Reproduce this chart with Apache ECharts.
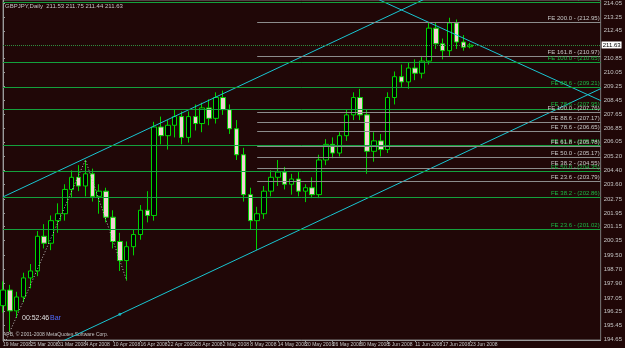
<!DOCTYPE html>
<html>
<head>
<meta charset="utf-8">
<script src="https://cdn.jsdelivr.net/npm/echarts@6/dist/echarts.min.js"></script>
<style>
html,body{margin:0;padding:0;background:#200707;}
#chart{width:625px;height:348px;}
</style>
</head>
<body>
<div id="chart"></div>
<script>
// GBPJPY daily bars
const dates = ['19 Mar 2008','20 Mar 2008','21 Mar 2008','24 Mar 2008','25 Mar 2008','26 Mar 2008','27 Mar 2008','28 Mar 2008','31 Mar 2008',
  '1 Apr 2008','2 Apr 2008','3 Apr 2008','4 Apr 2008','7 Apr 2008','8 Apr 2008','9 Apr 2008','10 Apr 2008','11 Apr 2008','14 Apr 2008','15 Apr 2008',
  '16 Apr 2008','17 Apr 2008','18 Apr 2008','21 Apr 2008','22 Apr 2008','23 Apr 2008','24 Apr 2008','25 Apr 2008','28 Apr 2008','29 Apr 2008','30 Apr 2008',
  '1 May 2008','2 May 2008','5 May 2008','6 May 2008','7 May 2008','8 May 2008','9 May 2008','12 May 2008','13 May 2008','14 May 2008','15 May 2008',
  '16 May 2008','19 May 2008','20 May 2008','21 May 2008','22 May 2008','23 May 2008','26 May 2008','27 May 2008','28 May 2008','29 May 2008','30 May 2008',
  '2 Jun 2008','3 Jun 2008','4 Jun 2008','5 Jun 2008','6 Jun 2008','9 Jun 2008','10 Jun 2008','11 Jun 2008','12 Jun 2008','13 Jun 2008','16 Jun 2008',
  '17 Jun 2008','18 Jun 2008','19 Jun 2008','20 Jun 2008','23 Jun 2008'];
const opens  = [196.6,197.5,196.3,197.1,198.2,198.6,200.6,200.2,201.5,201.9,203.3,204.0,203.5,204.2,202.9,203.2,201.7,200.3,199.2,200.0,
  200.7,202.1,201.8,206.9,206.4,207.0,207.5,206.3,207.5,207.1,208.0,207.4,208.6,207.9,206.8,205.3,203.0,201.5,201.9,203.2,
  204.0,204.3,203.6,203.9,203.2,203.4,203.0,205.0,205.9,205.4,206.4,207.6,208.6,207.6,205.5,206.1,205.6,208.6,209.8,209.5,
  210.3,210.0,210.7,212.6,211.7,211.3,212.9,211.8,211.53];
const highs  = [198.0,197.8,197.4,198.5,199.0,200.9,201.3,201.8,202.5,203.6,204.4,204.7,205.0,204.5,203.6,203.4,202.1,200.8,200.3,201.0,
  202.4,203.2,207.2,207.5,207.3,207.9,207.8,207.8,208.2,208.3,208.5,208.9,209.0,208.2,207.3,205.7,203.4,202.3,203.5,204.4,
  205.0,204.6,204.2,204.3,203.6,204.0,205.3,206.2,206.3,206.6,207.9,208.9,209.1,207.9,206.6,206.5,208.9,210.1,210.5,210.6,
  210.8,211.0,212.9,212.9,212.0,213.2,213.1,212.2,211.75];
const lows   = [196.2,195.1,195.9,196.8,197.6,198.3,199.9,199.8,200.8,201.5,202.8,203.2,202.9,202.6,201.9,201.4,199.9,198.6,198.05,199.5,
  200.4,201.4,201.5,205.9,205.6,206.3,205.9,206.0,206.7,206.6,207.0,207.1,207.6,206.5,205.0,202.6,201.0,199.81,201.6,202.9,
  203.5,203.3,203.0,202.9,202.57,202.8,202.8,204.7,205.1,205.2,206.1,207.3,207.3,204.2,204.9,205.2,205.4,208.2,209.2,209.1,
  209.6,209.7,210.5,211.4,210.8,211.0,211.4,211.3,211.44];
const closes = [197.5,196.3,197.1,198.2,198.6,200.6,200.2,201.5,201.9,203.3,204.0,203.5,204.2,202.9,203.2,201.7,200.3,199.2,200.0,200.7,
  202.1,201.8,206.9,206.4,207.0,207.5,206.3,207.5,207.1,208.0,207.4,208.6,207.9,206.8,205.3,203.0,201.5,201.9,203.2,204.0,
  204.3,203.6,203.9,203.2,203.4,203.0,205.0,205.9,205.4,206.4,207.6,208.6,207.6,205.5,206.1,205.6,208.6,209.8,209.5,210.3,
  210.0,210.7,212.6,211.7,211.3,212.9,211.8,211.5,211.63];

const futureSlots = 19;           // empty bars of chart shift on the right
const yTicks = [214.05,213.25,212.45,210.85,210.05,209.25,208.45,207.65,206.85,206.05,205.20,204.40,203.60,202.75,
  201.95,201.15,200.35,199.50,198.70,197.90,197.05,196.25,195.45,194.65];
const lastPrice = 211.63;

// fibo expansions: [ratio, price]
const fibGreen = [[127.2,214.08],[100.0,210.65],[88.6,209.21],[78.6,207.95],[61.8,205.84],[50.0,204.35],[38.2,202.86],[23.6,201.02]];
const fibGray  = [[200.0,212.95],[161.8,210.97],[100.0,207.76],[88.6,207.17],[78.6,206.65],[61.8,205.78],[50.0,205.17],[38.2,204.55],[23.6,203.79]];
// anchor points [bar index, price]
const fibGreenPts = [[-2,192.4],[12,205.0],[18,198.05]];
const fibGrayStart = 37;
const channelLow  = [[17,196.10],[68.6,205.69]];
const channelHigh = [[12,205.10]];  // parallel to channelLow
const fallLine    = [[54.84,214.22],[87.14,208.40]];

const cats = dates.concat(new Array(futureSlots).fill(''));
const lastIdx = cats.length - 1;
const candles = opens.map((o, i) => [o, closes[i], lows[i], highs[i]]);

function extend(p1, slope) {
  return [[0, p1[1] - slope * p1[0]], [lastIdx, p1[1] + slope * (lastIdx - p1[0])]];
}
const slopeLow = (channelLow[1][1] - channelLow[0][1]) / (channelLow[1][0] - channelLow[0][0]);
const slopeFall = (fallLine[1][1] - fallLine[0][1]) / (fallLine[1][0] - fallLine[0][0]);

const cyan = '#19c6d2';
const txt = '#c4c4c4';
const font = 'Liberation Sans';

function fibLines(levels, startIdx) {
  return levels.map(l => [
    {coord: [startIdx, l[1]], label: {formatter: 'FE ' + l[0].toFixed(1) + ' - (' + l[1].toFixed(2) + ')'}},
    {coord: [lastIdx, l[1]]}
  ]);
}
const showDate = (i, v) => v !== '' && i % 4 === 0;

const myChart = echarts.init(document.getElementById('chart'));
myChart.setOption({
  backgroundColor: '#200707',
  animation: false,
  textStyle: {fontFamily: font},
  grid: {left: 2, right: 17, top: 0, bottom: 8, show: true, borderColor: '#7a7a7a', borderWidth: 1},
  graphic: [
    {type: 'text', left: 5, top: 3, style: {text: 'GBPJPY,Daily  211.53 211.75 211.44 211.63', fill: txt, font: '6px ' + font}},
    {type: 'text', left: 22, top: 315, style: {text: '00:52:46', fill: '#e0e0e0', font: '7px ' + font}},
    {type: 'text', left: 50, top: 315, style: {text: 'Bar', fill: '#4f6cff', font: '7px ' + font}},
    {type: 'text', left: 3, top: 332, style: {text: 'APB, © 2001-2008 MetaQuotes Software Corp.', fill: txt, font: '5px ' + font}}
  ],
  xAxis: [
    {
      type: 'category', data: cats, boundaryGap: false,
      axisLine: {lineStyle: {color: '#9a9a9a'}},
      axisTick: {length: 2, lineStyle: {color: '#9a9a9a'}, interval: showDate},
      axisLabel: {color: txt, fontSize: 5, align: 'left', margin: 2, interval: 0, hideOverlap: false,
        formatter: (v, i) => showDate(i, v) ? v : ''},
      splitLine: {show: false}
    },
    {type: 'value', min: 0, max: lastIdx, show: false}
  ],
  yAxis: {
    type: 'value', position: 'right', min: 194.62, max: 214.22, scale: true,
    splitLine: {show: false},
    axisLine: {show: true, lineStyle: {color: '#9a9a9a'}},
    axisTick: {show: true, length: 2, customValues: yTicks, lineStyle: {color: '#9a9a9a'}},
    axisLabel: {color: txt, fontSize: 6, margin: 3, customValues: yTicks, formatter: v => v.toFixed(2)}
  },
  series: [
    {
      type: 'candlestick', xAxisIndex: 0, data: candles, barWidth: 5,
      itemStyle: {color: '#000000', color0: '#f2d0d2', borderColor: '#00d400', borderColor0: '#00d400', borderWidth: 1},
      markLine: {
        silent: true, symbol: 'none',
        lineStyle: {color: '#2f8f3f', type: 'dotted', width: 1},
        label: {position: 'end', distance: 1, formatter: lastPrice.toFixed(2), color: '#000', backgroundColor: '#ffffff',
          fontSize: 6, padding: [1, 1, 0, 1]},
        data: [{yAxis: lastPrice}]
      }
    },
    {
      type: 'line', xAxisIndex: 1, data: fibGreenPts, showSymbol: false, silent: true,
      lineStyle: {color: '#bdbdbd', width: 1, type: [1, 2]},
      markLine: {
        silent: true, symbol: 'none',
        lineStyle: {color: '#14a03c', width: 1, type: 'solid'},
        label: {position: 'insideEndTop', distance: 1, color: '#1ab844', fontSize: 6},
        data: fibLines(fibGreen, 0)
      }
    },
    {
      type: 'line', xAxisIndex: 1, data: [], showSymbol: false, silent: true,
      markLine: {
        silent: true, symbol: 'none',
        lineStyle: {color: '#8c8c8c', width: 1, type: 'solid'},
        label: {position: 'insideEndTop', distance: 1, color: '#c8c8c8', fontSize: 6},
        data: fibLines(fibGray, fibGrayStart)
      }
    },
    {type: 'line', xAxisIndex: 1, data: extend(channelLow[0], slopeLow), showSymbol: false, silent: true, lineStyle: {color: cyan, width: 1}},
    {type: 'line', xAxisIndex: 1, data: extend(channelHigh[0], slopeLow), showSymbol: false, silent: true, lineStyle: {color: cyan, width: 1}},
    {type: 'line', xAxisIndex: 1, data: extend(fallLine[0], slopeFall), showSymbol: false, silent: true, lineStyle: {color: cyan, width: 1}},
    {type: 'scatter', xAxisIndex: 1, data: [channelLow[0]], symbolSize: 3, silent: true, itemStyle: {color: cyan}}
  ]
});
</script>
</body>
</html>
